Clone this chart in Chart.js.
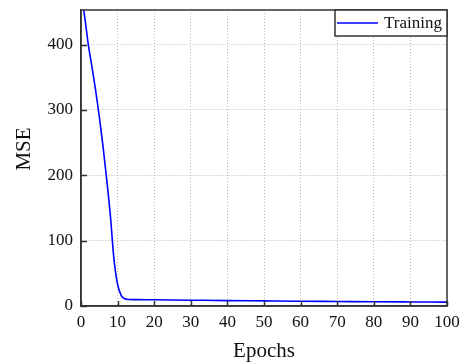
<!DOCTYPE html>
<html>
<head>
<meta charset="utf-8">
<script src="https://cdn.jsdelivr.net/npm/chart.js@4"></script>
<style>
  html, body { margin: 0; padding: 0; background: #fff; }
  #wrap { width: 466px; height: 364px; }
</style>
</head>
<body>
<div id="wrap"><canvas id="mseChart" width="466" height="364"></canvas></div>
<script>
// values
const epochs = [0, 1, 2, 3, 4, 5, 6, 7, 8, 9, 10, 11, 12, 13, 15, 20, 30, 40, 50, 60, 70, 80, 90, 100];
const mse = [480, 443, 400, 366, 330, 290, 245, 195, 140, 72, 33, 16, 11, 10, 9.8, 9.5, 8.9, 8.3, 7.8, 7.3, 6.9, 6.5, 6.2, 5.9];
const xTicks = [0, 10, 20, 30, 40, 50, 60, 70, 80, 90, 100];
const yTicks = [0, 100, 200, 300, 400];
const seriesLabel = 'Training';
const yTitle = 'MSE';

const serif = "'Liberation Serif', 'Times New Roman', serif";
const axisColor = '#333';

// draws inward tick marks, the top/right frame, the y title and the boxed legend
const framePlugin = {
    id: 'frame',
    afterDraw(chart) {
        const { ctx, chartArea: a, scales } = chart;
        ctx.save();
        ctx.strokeStyle = axisColor;
        ctx.lineWidth = 1.5;
        ctx.beginPath();
        xTicks.forEach(v => {
            const px = Math.round(scales.x.getPixelForValue(v)) + 0.5;
            ctx.moveTo(px, a.bottom);
            ctx.lineTo(px, a.bottom - 5);
        });
        yTicks.forEach(v => {
            const py = Math.round(scales.y.getPixelForValue(v)) + 0.5;
            ctx.moveTo(a.left, py);
            ctx.lineTo(a.left + 6, py);
        });
        ctx.stroke();
        ctx.strokeRect(a.left, a.top, a.right - a.left, a.bottom - a.top);

        // y axis title, rotated
        ctx.save();
        ctx.translate(24, 149);
        ctx.rotate(-Math.PI / 2);
        ctx.fillStyle = '#111';
        ctx.font = '21px ' + serif;
        ctx.textAlign = 'center';
        ctx.textBaseline = 'middle';
        ctx.fillText(yTitle, 0, 0);
        ctx.restore();

        // legend box in the top right corner
        const ds = chart.data.datasets[0];
        const bw = 112, bh = 26;
        const bx = a.right - bw, by = a.top;
        ctx.fillStyle = '#fff';
        ctx.fillRect(bx, by, bw, bh);
        ctx.strokeRect(bx, by, bw, bh);
        ctx.strokeStyle = ds.borderColor;
        ctx.lineWidth = 1.5;
        ctx.beginPath();
        ctx.moveTo(bx + 2, by + bh / 2);
        ctx.lineTo(bx + 43, by + bh / 2);
        ctx.stroke();
        ctx.fillStyle = '#111';
        ctx.font = '17px ' + serif;
        ctx.textBaseline = 'middle';
        ctx.fillText(ds.label, bx + 49, by + bh / 2 + 1);
        ctx.restore();
    }
};

new Chart(document.getElementById('mseChart'), {
    type: 'line',
    data: {
        datasets: [{
            label: seriesLabel,
            data: epochs.map((e, i) => ({ x: e, y: mse[i] })),
            borderColor: '#0000ff',
            borderWidth: 1.6,
            pointRadius: 0,
            fill: false,
            cubicInterpolationMode: 'monotone'
        }]
    },
    options: {
        responsive: false,
        animation: false,
        layout: { padding: { top: 10, right: 19, left: 0, bottom: 0 } },
        plugins: {
            legend: { display: false },
            tooltip: { enabled: false }
        },
        scales: {
            x: {
                type: 'linear',
                min: 0,
                max: 100,
                afterBuildTicks: s => { s.ticks = xTicks.map(v => ({ value: v })); },
                afterFit: s => { s.height = 58; s.paddingLeft = 0; s.paddingRight = 0; },
                grid: {
                    color: ctx => (ctx.tick.value === 0 || ctx.tick.value === 100) ? 'rgba(0,0,0,0)' : '#b8b8b8',
                    lineWidth: 1,
                    drawTicks: false
                },
                border: { display: true, color: axisColor, width: 1.5, dash: [1, 2] },
                ticks: { color: '#111', font: { family: serif, size: 17 }, padding: 6, maxRotation: 0 },
                title: { display: true, text: 'Epochs', color: '#111', font: { family: serif, size: 21 }, padding: { top: 0, bottom: 0 } }
            },
            y: {
                type: 'linear',
                min: 0,
                max: 453,
                afterBuildTicks: s => { s.ticks = yTicks.map(v => ({ value: v })); },
                afterFit: s => { s.width = 81; s.paddingTop = 0; s.paddingBottom = 0; },
                grid: {
                    color: ctx => ctx.tick.value === 0 ? 'rgba(0,0,0,0)' : '#b8b8b8',
                    lineWidth: 1,
                    drawTicks: false
                },
                border: { display: true, color: axisColor, width: 1.5, dash: [1, 2] },
                ticks: { color: '#111', font: { family: serif, size: 17 }, padding: 8 },
                title: { display: false }
            }
        }
    },
    plugins: [framePlugin]
});
</script>
</body>
</html>
